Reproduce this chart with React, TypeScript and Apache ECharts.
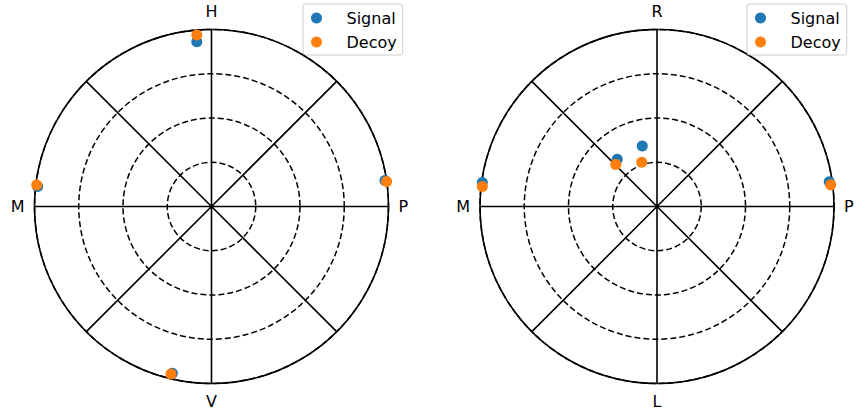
import React, { useEffect, useRef } from "react";
import * as echarts from "echarts";

// Left panel (H/V basis)
const leftSignalR = [0.935, 0.989, 0.991, 0.968];
const leftSignalTheta = [95.1, 173.4, 8.5, 256.8];
const leftDecoyR = [0.972, 0.995, 0.999, 0.974];
const leftDecoyTheta = [94.9, 173.0, 8.1, 256.4];

// Right panel (R/L basis)
const rightSignalR = [0.996, 0.349, 0.352, 0.983];
const rightSignalTheta = [172.2, 130.1, 103.7, 8.2];
const rightDecoyR = [0.993, 0.333, 0.264, 0.989];
const rightDecoyTheta = [173.5, 134.4, 109.1, 7.1];

const tickAngles = [0, 90, 180, 270];
const leftTickLabels = ["P", "H", "M", "V"];
const rightTickLabels = ["P", "R", "M", "L"];
const seriesNames = ["Signal", "Decoy"];

const BLUE = "#1f77b4";
const ORANGE = "#ff7f0e";
const FONT = "DejaVu Sans";

function pairs(r: number[], t: number[]) {
  return r.map((v, i) => [v, t[i]]);
}

function angleAxis(idx: number, labels: string[]) {
  return {
    polarIndex: idx,
    type: "value",
    min: 0,
    max: 360,
    interval: 45,
    startAngle: 0,
    clockwise: false,
    axisLine: { show: true, lineStyle: { color: "#000", width: 1.6 } },
    axisTick: { show: false },
    axisLabel: {
      show: true,
      margin: 10,
      color: "#000",
      fontFamily: FONT,
      fontSize: 16,
      formatter: (v: number) => {
        const k = tickAngles.indexOf(v);
        return k >= 0 ? labels[k] : "";
      },
    },
    splitLine: { show: true, lineStyle: { color: "#000", width: 1.6 } },
  };
}

function radiusAxis(idx: number) {
  return {
    polarIndex: idx,
    type: "value",
    min: 0,
    max: 1,
    interval: 0.25,
    axisLine: { show: false },
    axisTick: { show: false },
    axisLabel: { show: false },
    splitLine: {
      show: true,
      lineStyle: { color: "#000", width: 1.5, type: [6, 3] },
    },
  };
}

function legend(left: number) {
  return {
    data: seriesNames,
    orient: "vertical",
    left,
    top: 4,
    icon: "circle",
    itemWidth: 30,
    itemHeight: 11,
    itemGap: 8,
    padding: [6, 6, 5, 8],
    backgroundColor: "rgba(255,255,255,0.8)",
    borderColor: "#cccccc",
    borderWidth: 1,
    borderRadius: 3,
    selectedMode: false,
    textStyle: {
      color: "#000",
      fontFamily: FONT,
      fontSize: 16,
      lineHeight: 16,
      padding: [0, 0, 0, 10],
    },
  };
}

export default function App() {
  const ref = useRef<HTMLDivElement>(null);
  useEffect(() => {
    if (!ref.current) return;
    const chart = echarts.init(ref.current, null, { renderer: "svg" });
    const mk = (name: string, polarIndex: number, data: number[][], color: string) => ({
      name,
      type: "scatter",
      coordinateSystem: "polar",
      polarIndex,
      data,
      symbol: "circle",
      symbolSize: 11,
      itemStyle: { color, opacity: 1 },
      z: 5,
    });
    chart.setOption({
      animation: false,
      backgroundColor: "#fff",
      polar: [
        { center: [211.5, 206.5], radius: 177 },
        { center: [657, 206.5], radius: 177 },
      ],
      angleAxis: [angleAxis(0, leftTickLabels), angleAxis(1, rightTickLabels)],
      radiusAxis: [radiusAxis(0), radiusAxis(1)],
      legend: [legend(303), legend(747)],
      series: [
        mk("Signal", 0, pairs(leftSignalR, leftSignalTheta), BLUE),
        mk("Decoy", 0, pairs(leftDecoyR, leftDecoyTheta), ORANGE),
        mk("Signal", 1, pairs(rightSignalR, rightSignalTheta), BLUE),
        mk("Decoy", 1, pairs(rightDecoyR, rightDecoyTheta), ORANGE),
      ],
    });
    return () => chart.dispose();
  }, []);
  return (
    <div
      ref={ref}
      style={{ position: "fixed", left: 0, top: 0, width: 856, height: 415 }}
    />
  );
}
